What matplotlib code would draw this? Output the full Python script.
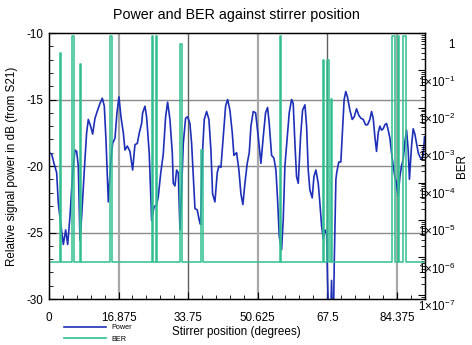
import numpy as np
import matplotlib
matplotlib.use("Agg")
import matplotlib.pyplot as plt
from matplotlib.ticker import MultipleLocator, LogLocator, FixedLocator, NullFormatter
from matplotlib.lines import Line2D
from matplotlib.transforms import ScaledTranslation

plt.rcParams['font.family'] = ['Liberation Sans', 'DejaVu Sans']
plt.rcParams['axes.unicode_minus'] = False
plt.rcParams['mathtext.default'] = 'regular'

# power (dB)
power_pos = [0.0, 0.65, 1.21, 1.86, 2.26, 2.83, 3.48, 4.04, 4.53, 5.09, 5.74, 6.31, 6.71, 7.11,
             7.52, 7.92, 8.57, 9.13, 9.54, 10.10, 10.59, 11.16, 11.80, 12.37, 12.93, 13.42,
             13.82, 14.39, 14.95, 15.44, 16.01, 16.49, 16.97, 17.46, 18.03, 18.43, 19.0,
             19.64, 20.29, 20.85, 21.42, 21.91, 22.47, 22.72, 23.28, 23.68, 24.33, 24.90,
             25.46, 26.11, 26.51, 27.08, 27.72, 28.29, 28.78, 29.34, 29.91, 30.15, 30.55,
             30.96, 31.36, 31.77, 32.17, 32.58, 33.14, 33.63, 34.19, 34.60, 35.00, 35.41,
             35.97, 36.46, 36.78, 37.18, 37.67, 38.24, 38.80, 39.28, 39.69, 40.25, 40.82,
             41.22, 41.71, 42.28, 42.84, 43.33, 43.89, 44.46, 44.86, 45.51, 46.07, 46.56,
             47.04, 47.53, 48.09, 48.58, 48.99, 49.55, 50.12, 50.77, 51.41, 51.98, 52.54,
             53.03, 53.43, 54.00, 54.56, 55.05, 55.45, 55.86, 56.42, 56.83, 57.23, 57.80,
             58.28, 58.85, 59.25, 59.66, 60.06, 60.47, 61.03, 61.52, 62.09, 62.49, 62.89,
             63.29, 63.86, 64.27, 64.75, 65.32, 65.72, 66.13, 66.53, 66.94, 67.34, 67.60,
             67.90, 68.30, 68.55, 68.80, 69.05, 69.20, 69.35, 69.60, 69.80, 70.30, 70.80,
             71.20, 71.60, 72.00, 72.40, 73.00, 73.56, 74.05, 74.61, 75.18, 75.66, 76.23,
             76.80, 77.28, 77.84, 78.25, 78.65, 79.06, 79.46, 79.87, 80.27, 80.67, 81.08,
             81.48, 81.89, 82.29, 82.70, 83.10, 83.50, 83.90, 84.31, 84.71, 85.12, 85.52,
             85.93, 86.33, 86.74, 87.14, 87.44, 87.95, 88.35, 88.76, 89.16, 89.57, 89.97,
             90.38, 90.78, 91.10]
power_db = [-19.0, -19.1, -19.8, -20.5, -22.8, -24.3, -25.9, -24.8, -25.9, -23.8, -20.5, -18.8,
            -18.9, -20.0, -25.6, -23.8, -20.3, -17.5, -16.5, -17.0, -17.6, -16.4, -15.8, -15.3,
            -14.9, -15.5, -18.0, -22.7, -19.8, -18.3, -17.9, -16.0, -14.8, -16.3, -17.5, -18.8,
            -18.5, -18.9, -20.3, -18.4, -18.3, -17.5, -16.8, -16.0, -15.5, -16.3, -19.1, -24.1,
            -23.1, -22.9, -22.3, -20.6, -19.1, -16.3, -15.2, -16.5, -19.0, -21.3, -21.5, -20.3,
            -20.5, -24.8, -21.8, -18.3, -16.4, -16.3, -16.8, -18.3, -20.8, -23.2, -23.3, -24.1,
            -24.4, -19.3, -16.5, -15.9, -16.5, -18.8, -22.1, -22.7, -20.5, -20.0, -20.1, -17.8,
            -15.5, -15.0, -15.8, -17.5, -19.2, -19.0, -20.3, -22.1, -22.9, -21.3, -19.8, -19.0,
            -17.0, -15.9, -16.0, -17.8, -19.8, -17.8, -16.0, -15.6, -16.8, -19.2, -19.4, -20.3,
            -22.5, -25.3, -26.3, -24.0, -20.0, -17.8, -16.0, -15.0, -15.3, -18.3, -20.8, -21.3,
            -17.8, -15.8, -15.4, -17.0, -20.3, -21.8, -22.4, -20.8, -20.3, -21.3, -22.8, -24.5,
            -25.5, -24.8, -25.1, -28.8, -32.0, -32.0, -28.6, -32.0, -30.5, -27.3, -24.8, -21.0,
            -20.5, -19.7, -19.7, -17.3, -15.0, -14.4, -14.8, -15.8, -16.5, -16.3, -15.7, -16.2,
            -16.4, -16.5, -16.9, -16.9, -16.5, -15.9, -16.4, -17.8, -18.9, -17.5, -17.0, -17.3,
            -17.2, -16.9, -16.8, -17.3, -17.9, -19.0, -20.0, -20.8, -21.3, -22.3, -20.8, -20.0,
            -19.5, -18.2, -17.3, -18.8, -21.0, -18.5, -17.2, -17.6, -18.3, -19.0, -19.3, -19.5,
            -19.2, -17.8]

# BER: floor level plus short bursts (start, end, peak)
ber_floor = 7.5e-7
burst_start = [2.58, 5.7, 7.42, 14.85, 24.97, 25.97, 31.88, 36.97, 55.97, 66.37, 67.55, 68.45, 83.1, 84.57, 85.97]
burst_end = [2.82, 5.98, 7.7, 15.35, 25.22, 26.22, 32.2, 37.3, 56.3, 66.62, 67.95, 68.62, 83.85, 84.82, 86.5]
burst_peak = [0.3, 0.85, 0.145, 0.85, 0.85, 0.85, 0.5, 7.6e-4, 0.85, 0.19, 0.19, 0.017, 0.85, 0.85, 0.85]

x_ticks = [0, 16.875, 33.75, 50.625, 67.5, 84.375]
x_labels = ['0', '16.875', '33.75', '50.625', '67.5', '84.375']
ber_ticks = [1, 1e-1, 1e-2, 1e-3, 1e-4, 1e-5, 1e-6, 1e-7]
ber_labels = ['1'] + [r'$1{\times}10^{-%d}$' % k for k in range(1, 8)]

ber_x = [0.0]
ber_y = [ber_floor]
for s, e, p in zip(burst_start, burst_end, burst_peak):
    ber_x += [s, s, e, e]
    ber_y += [ber_floor, p, p, ber_floor]
ber_x.append(power_pos[-1])
ber_y.append(ber_floor)

blue = '#1e30b8'
green = '#30c090'

fig = plt.figure(figsize=(4.72, 3.45), dpi=100)
ax = fig.add_axes([0.1038, 0.1333, 0.7956, 0.771])
ax2 = ax.twinx()

ax.set_xlim(0, 91.1)
ax.set_ylim(-30, -10)
ax2.set_yscale('log')
ax2.set_ylim(10 ** -7.11, 1.0)

# grid
for y in [-15, -20, -25]:
    ax.axhline(y, color='#8a8a8a', lw=1.0, zorder=0)
grid_cols = ['#a8a8a8', '#606060']
for i, xt in enumerate(x_ticks[1:]):
    ax.axvline(xt, color=grid_cols[i % 2], lw=1.6 if i % 2 == 0 else 1.0, zorder=0)

ax.plot(power_pos, power_db, color=blue, lw=1.2)
ax2.plot(ber_x, ber_y, color=green, lw=1.1)

ax.set_xticks(x_ticks)
ax.set_xticklabels(x_labels)
ax.xaxis.set_minor_locator(MultipleLocator(16.875 / 5))
ax.yaxis.set_major_locator(MultipleLocator(5))
ax.yaxis.set_minor_locator(MultipleLocator(1))
ax.tick_params(axis='both', which='both', direction='in', labelsize=8.4, top=False, right=False)
ax.tick_params(axis='x', which='major', length=5, pad=9)
ax.tick_params(axis='x', which='minor', length=3)
ax.tick_params(axis='y', which='major', length=5, pad=4)
ax.tick_params(axis='y', which='minor', length=3)

ax2.yaxis.set_major_locator(FixedLocator(ber_ticks))
ax2.set_yticklabels(ber_labels)
ax2.yaxis.set_minor_locator(LogLocator(base=10, subs=np.arange(2, 10), numticks=20))
ax2.yaxis.set_minor_formatter(NullFormatter())
ax2.tick_params(axis='y', which='both', direction='in', labelsize=8.4, pad=22)
ax2.tick_params(axis='y', which='major', length=5)
ax2.tick_params(axis='y', which='minor', length=3)
shift = ScaledTranslation(0, -0.1, fig.dpi_scale_trans)
for lab in ax2.get_yticklabels():
    lab.set_horizontalalignment('right')
    lab.set_transform(lab.get_transform() + shift)

for sp in ax.spines.values():
    sp.set_linewidth(1.0)

ax.set_title('Power and BER against stirrer position', fontsize=10.3, pad=10)
ax.set_ylabel('Relative signal power in dB (from S21)', fontsize=8.4, labelpad=6)
ax.set_xlabel('Stirrer position (degrees)', fontsize=8.4, labelpad=2)
ax2.set_ylabel('BER', fontsize=8.4, labelpad=1)

handles = [Line2D([], [], color=blue, lw=1.2), Line2D([], [], color=green, lw=1.2)]
fig.legend(handles, ['Power', 'BER'], loc='upper left', bbox_to_anchor=(0.135, 0.06),
           frameon=False, fontsize=5.2, handlelength=5.8, handletextpad=0.8,
           labelspacing=0.6, borderpad=0, borderaxespad=0)

fig.savefig('out.png', dpi=100)
